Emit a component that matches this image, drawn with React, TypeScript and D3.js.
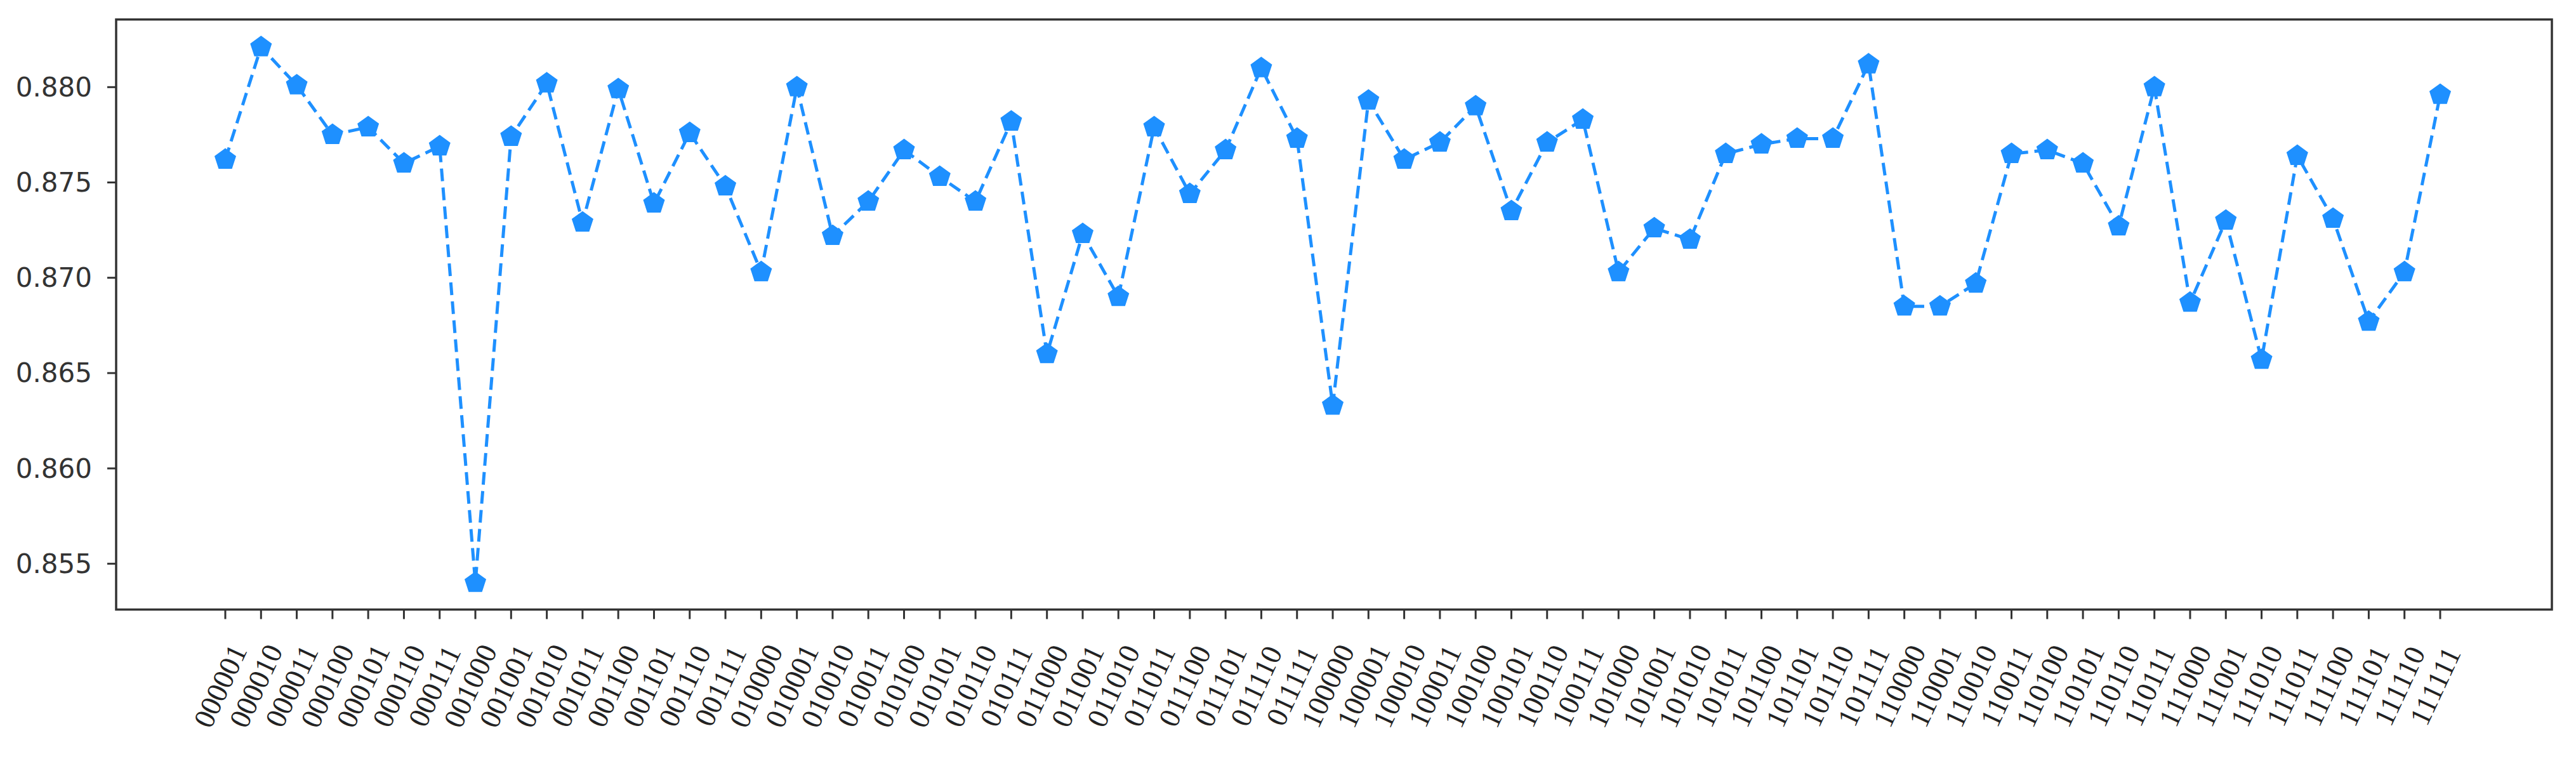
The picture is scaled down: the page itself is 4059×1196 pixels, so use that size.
import React, { useEffect, useRef } from "react";
import * as d3 from "d3";

const categories: string[] = [
  "000001", "000010", "000011", "000100", "000101", "000110", "000111",
  "001000", "001001", "001010", "001011", "001100", "001101", "001110", "001111",
  "010000", "010001", "010010", "010011", "010100", "010101", "010110", "010111",
  "011000", "011001", "011010", "011011", "011100", "011101", "011110", "011111",
  "100000", "100001", "100010", "100011", "100100", "100101", "100110", "100111",
  "101000", "101001", "101010", "101011", "101100", "101101", "101110", "101111",
  "110000", "110001", "110010", "110011", "110100", "110101", "110110", "110111",
  "111000", "111001", "111010", "111011", "111100", "111101", "111110", "111111",
];

const values: number[] = [
  0.8762, 0.8821, 0.8801, 0.8775, 0.8779, 0.8760, 0.8769,
  0.8540, 0.8774, 0.8802, 0.8729, 0.8799, 0.8739, 0.8776, 0.8748,
  0.8703, 0.8800, 0.8722, 0.8740, 0.8767, 0.8753, 0.8740, 0.8782,
  0.8660, 0.8723, 0.8690, 0.8779, 0.8744, 0.8767, 0.8810, 0.8773,
  0.8633, 0.8793, 0.8762, 0.8771, 0.8790, 0.8735, 0.8771, 0.8783,
  0.8703, 0.8726, 0.8720, 0.8765, 0.8770, 0.8773, 0.8773, 0.8812,
  0.8685, 0.8685, 0.8697, 0.8765, 0.8767, 0.8760, 0.8727, 0.8800,
  0.8687, 0.8730, 0.8657, 0.8764, 0.8731, 0.8677, 0.8703, 0.8796,
];

const yTicks: number[] = [0.855, 0.86, 0.865, 0.87, 0.875, 0.88];
const yDomain: [number, number] = [0.852596, 0.883549];

const W = 4059;
const H = 1196;
const plot = { left: 183, right: 4021, top: 30.7, bottom: 960.5 };
const COLOR = "#1E90FF";

function pentagonPath(r: number): string {
  const pts: [number, number][] = [];
  for (let i = 0; i < 5; i++) {
    const a = -Math.PI / 2 + (i * 2 * Math.PI) / 5;
    pts.push([r * Math.cos(a), r * Math.sin(a)]);
  }
  return d3.line()(pts) + "Z";
}

export default function App() {
  const ref = useRef<SVGSVGElement | null>(null);

  useEffect(() => {
    const svg = d3.select(ref.current);
    svg.selectAll("*").remove();

    const x = d3.scalePoint<string>().domain(categories).range([355, 3845]);
    const y = d3.scaleLinear().domain(yDomain).range([plot.bottom, plot.top]);

    svg.append("rect").attr("x", 0).attr("y", 0).attr("width", W).attr("height", H).attr("fill", "#fff");

    // y axis ticks
    const yg = svg.append("g");
    yTicks.forEach((t) => {
      const yy = y(t);
      yg.append("line")
        .attr("x1", plot.left - 14).attr("x2", plot.left)
        .attr("y1", yy).attr("y2", yy)
        .attr("stroke", "#333").attr("stroke-width", 3);
      yg.append("text")
        .attr("x", plot.left - 38)
        .attr("y", yy)
        .attr("text-anchor", "end")
        .attr("dominant-baseline", "central")
        .attr("font-family", "'DejaVu Sans', sans-serif")
        .attr("font-size", 42)
        .attr("fill", "#333")
        .text(d3.format(".3f")(t));
    });

    // x axis ticks and labels
    const xg = svg.append("g");
    categories.forEach((c) => {
      const xx = x(c) as number;
      xg.append("line")
        .attr("x1", xx).attr("x2", xx)
        .attr("y1", plot.bottom).attr("y2", plot.bottom + 15)
        .attr("stroke", "#333").attr("stroke-width", 3);
      xg.append("text")
        .attr("transform", `translate(${xx - 8},${1081}) rotate(-65)`)
        .attr("text-anchor", "middle")
        .attr("dominant-baseline", "central")
        .attr("font-family", "'Liberation Serif', serif")
        .attr("font-size", 46)
        .attr("fill", "#222")
        .text(c);
    });

    // line
    const line = d3.line<number>()
      .x((_, i) => x(categories[i]) as number)
      .y((d) => y(d));
    svg.append("path")
      .datum(values)
      .attr("d", line)
      .attr("fill", "none")
      .attr("stroke", COLOR)
      .attr("stroke-width", 5)
      .attr("stroke-dasharray", "20 10");

    // markers
    const pent = pentagonPath(17);
    svg.append("g").selectAll("path")
      .data(values)
      .join("path")
      .attr("d", pent)
      .attr("transform", (d, i) => `translate(${x(categories[i])},${y(d)})`)
      .attr("fill", COLOR)
      .attr("stroke", COLOR)
      .attr("stroke-width", 1.5);

    // frame
    svg.append("rect")
      .attr("x", plot.left).attr("y", plot.top)
      .attr("width", plot.right - plot.left)
      .attr("height", plot.bottom - plot.top)
      .attr("fill", "none")
      .attr("stroke", "#333")
      .attr("stroke-width", 3.5);
  }, []);

  return (
    <svg
      ref={ref}
      width={W}
      height={H}
      style={{ position: "absolute", left: 0, top: 0, display: "block" }}
    />
  );
}
